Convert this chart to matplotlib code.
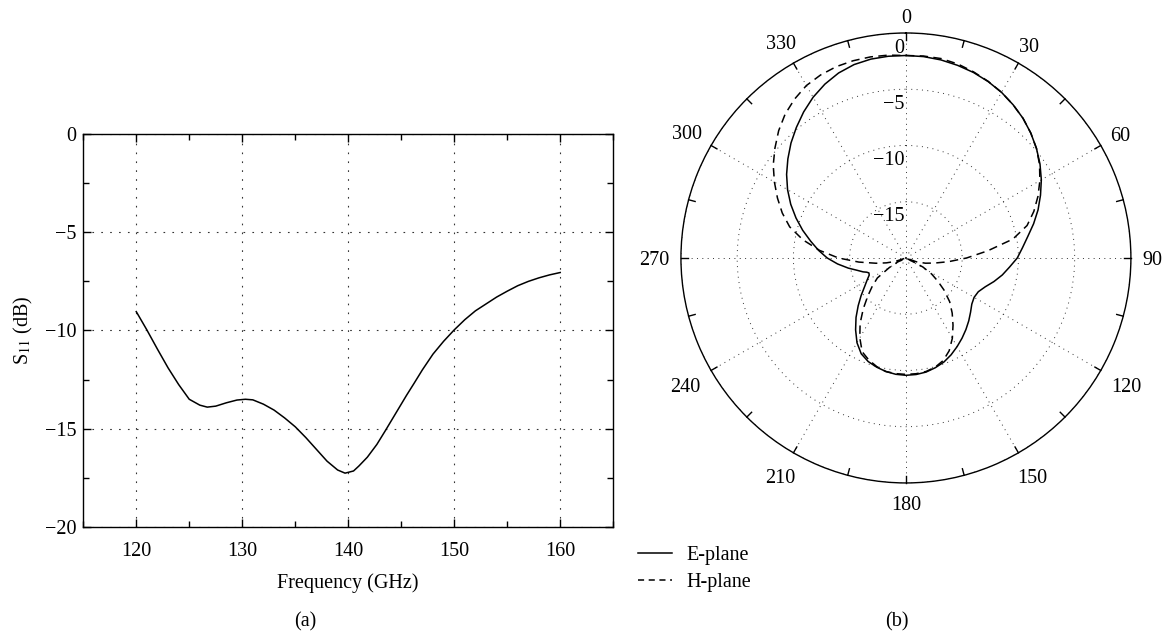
import numpy as np
import matplotlib
matplotlib.use("Agg")
import matplotlib.pyplot as plt
from matplotlib.ticker import MultipleLocator
from matplotlib.lines import Line2D

plt.rcParams['font.family'] = ['Liberation Serif', 'DejaVu Serif']
plt.rcParams['mathtext.fontset'] = 'stix'
plt.rcParams['font.size'] = 14.5

# (a) S11 vs frequency
freq = [120, 121, 122, 123, 124, 125, 126, 126.7, 127.5, 128.5, 129.5, 130.3,
        131, 132, 133, 134, 135, 136, 137, 138, 139, 139.7, 140.5, 141, 141.8,
        142.7, 143.5, 144.5, 145.5, 146.2, 147, 148, 149, 150, 151, 152, 153,
        154, 155, 156, 157, 158, 159, 160]
s11 = [-9.04, -9.97, -10.95, -11.9, -12.75, -13.5, -13.8, -13.9, -13.85,
       -13.68, -13.54, -13.5, -13.53, -13.75, -14.05, -14.45, -14.9, -15.45,
       -16.05, -16.65, -17.1, -17.26, -17.15, -16.9, -16.45, -15.8, -15.1,
       -14.2, -13.3, -12.7, -12.0, -11.2, -10.55, -9.97, -9.45, -9.0, -8.65,
       -8.3, -8.0, -7.72, -7.5, -7.32, -7.17, -7.05]

# (b) radiation pattern (deg, dB)
e_theta = [0, 5, 10, 15, 20, 25, 30, 35, 40, 45, 50, 55, 60, 65, 70, 75, 80,
           85, 90, 95, 100, 105, 110, 115, 120, 125, 130, 135, 140, 145, 150,
           155, 160, 165, 170, 175, 180, 185, 190, 195, 200, 205, 210, 215,
           220, 225, 230, 235, 240, 245, 248, 250, 252, 256, 260, 265, 270,
           275, 280, 285, 290, 295, 300, 305, 310, 315, 320, 325, 330, 335,
           340, 345, 350, 355, 360]
e_db = [-2.0, -2.03, -2.12, -2.27, -2.45, -2.7, -3.0, -3.38, -3.8, -4.3, -4.85,
        -5.45, -6.1, -6.8, -7.5, -8.25, -9.0, -9.6, -10.1, -10.75, -11.3,
        -11.9, -12.5, -12.9, -13.0, -12.85, -12.5, -12.1, -11.7, -11.3, -10.9,
        -10.5, -10.15, -9.9, -9.7, -9.6, -9.57, -9.62, -9.75, -9.95, -10.2,
        -10.6, -11.3, -12.2, -13.1, -14.0, -14.8, -15.5, -16.0, -16.4, -16.45,
        -16.3, -16.0, -15.5, -14.8, -13.9, -13.0, -12.2, -11.4, -10.5, -9.6,
        -8.7, -7.85, -7.05, -6.3, -5.55, -4.85, -4.15, -3.5, -2.95, -2.5,
        -2.2, -2.05, -2.0, -2.0]

h_theta = [0, 5, 10, 15, 20, 25, 30, 35, 40, 45, 50, 55, 60, 65, 70, 75, 80,
           85, 90, 95, 100, 105, 110, 114, 118, 122, 126, 130, 135, 140, 145,
           150, 155, 160, 165, 170, 175, 180, 185, 190, 195, 200, 205, 210,
           215, 220, 225, 230, 235, 240, 244, 248, 252, 256, 260, 265, 270,
           275, 280, 285, 290, 295, 300, 305, 310, 315, 320, 325, 330, 335,
           340, 345, 350, 355, 360]
h_db = [-2.0, -1.98, -2.0, -2.15, -2.4, -2.68, -3.0, -3.38, -3.8, -4.3, -4.85,
        -5.5, -6.25, -7.05, -7.9, -8.85, -10.35, -12.7, -14.6, -16.2, -17.4,
        -18.2, -19.0, -20.0, -18.3, -17.3, -16.5, -15.6, -14.5, -13.6, -12.7,
        -11.75, -10.9, -10.3, -9.95, -9.75, -9.67, -9.65, -9.68, -9.75, -10.0,
        -10.35, -10.8, -11.8, -12.9, -14.1, -15.2, -16.1, -16.9, -18.3, -19.2,
        -20.0, -19.0, -18.2, -17.3, -15.8, -14.0, -12.3, -10.7, -9.3, -8.3,
        -7.4, -6.5, -5.6, -4.8, -4.0, -3.3, -2.75, -2.3, -2.05, -1.9, -1.85,
        -1.85, -1.9, -2.0]

angle_labels = [0, 30, 60, 90, 120, 150, 180, 210, 240, 270, 300, 330]
ring_labels = [0, -5, -10, -15]

fig = plt.figure(figsize=(11.66, 6.35), dpi=100)

grid_kw = dict(color='#333333', linewidth=0.8, linestyle=(0, (1.5, 6.5)))

# ---- left panel
ax = fig.add_axes([0.0714, 0.1701, 0.4545, 0.6189])
ax.plot(freq, s11, color='black', lw=1.1)
ax.set_xlim(115, 165)
ax.set_ylim(-20, 0)
ax.set_xticks([120, 130, 140, 150, 160])
ax.set_yticks([-20, -15, -10, -5, 0])
ax.xaxis.set_minor_locator(MultipleLocator(5))
ax.yaxis.set_minor_locator(MultipleLocator(2.5))
ax.tick_params(which='both', direction='in', top=True, right=True, width=1.0)
ax.tick_params(which='major', length=6)
ax.tick_params(which='minor', length=4)
ax.tick_params(axis='x', pad=11)
ax.tick_params(axis='y', pad=5)
ax.grid(True, which='major', **grid_kw)
for sp in ax.spines.values():
    sp.set_linewidth(1.0)
ax.set_xlabel('Frequency (GHz)', labelpad=9)
ax.set_ylabel('S$_{11}$ (dB)', labelpad=7)

# ---- right panel
pax = fig.add_axes([0.584, 0.2394, 0.3859, 0.7087], projection='polar')
pax.set_theta_zero_location('N')
pax.set_theta_direction(-1)
pax.plot(np.deg2rad(e_theta), e_db, color='black', lw=1.1, label='E-plane')
pax.plot(np.deg2rad(h_theta), h_db, color='black', lw=1.1,
         linestyle=(0, (5.5, 3.5)), label='H-plane')
pax.set_ylim(-20, 0)
pax.set_yticks([-15, -10, -5, 0])
pax.set_yticklabels([])
pax.set_xticks(np.deg2rad(angle_labels))
pax.set_xticklabels([])
pax.tick_params(axis='x', length=0)
pax.grid(True, color='#333333', linewidth=0.7, linestyle=(0, (1, 4.5)))
pax.spines['polar'].set_linewidth(1.0)

# inward tick marks on the rim every 15 deg
for deg in range(0, 360, 15):
    t = np.deg2rad(deg)
    pax.plot([t, t], [-0.6, 0], color='black', lw=1.0, clip_on=False)

# angle labels outside the rim (offsets in px, converted to points)
for deg in angle_labels:
    t = np.deg2rad(deg)
    half_w = 5.2 * len(str(deg))
    d = 11 + abs(np.sin(t)) * half_w + abs(np.cos(t)) * 6
    if np.cos(t) < 0:
        d += 3.5 * abs(np.cos(t))
    dx = d * np.sin(t)
    dy = d * np.cos(t) - 2.5
    pax.annotate(str(deg), xy=(t, 0), xytext=(dx * 0.72, dy * 0.72),
                 textcoords='offset points', ha='center', va='center',
                 annotation_clip=False)

for val in ring_labels:
    pax.annotate(str(val).replace('-', '\u2212'), xy=(0, val), xytext=(-1, -4),
                 textcoords='offset points', ha='right', va='top')

handles = [Line2D([], [], color='black', lw=1.1),
           Line2D([], [], color='black', lw=1.1, linestyle=(0, (4, 3)))]
fig.legend(handles, ['E-plane', 'H-plane'], loc='upper left',
           bbox_to_anchor=(0.547, 0.140), frameon=False, borderpad=0,
           borderaxespad=0, handlelength=1.7, handletextpad=0.7,
           labelspacing=0.4)

fig.text(0.262, 0.02, '(a)', ha='center', va='center')
fig.text(0.769, 0.02, '(b)', ha='center', va='center')

fig.savefig('out.png', dpi=100)
